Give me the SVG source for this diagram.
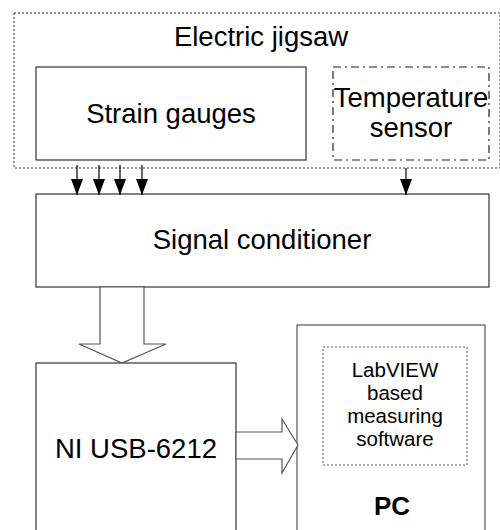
<svg xmlns="http://www.w3.org/2000/svg" width="500" height="530" viewBox="0 0 500 530">
<style>
text{font-family:"Liberation Sans",Arial,sans-serif;fill:#000;text-anchor:middle}
.box{fill:#fff;stroke:#333;stroke-width:1.2}
.gbox{fill:#fff;stroke:#555;stroke-width:1.2}
.hollow{fill:#fff;stroke:#555;stroke-width:1.2}
.wire{stroke:#000;stroke-width:1.2;fill:none}
</style>
<defs>
<marker id="ah" markerWidth="16" markerHeight="12" refX="16" refY="6" orient="auto" markerUnits="userSpaceOnUse" viewBox="0 0 16 12">
<path d="M0,0 L16,6 L0,12 Z" fill="#000"/>
</marker>
</defs>
<rect width="500" height="530" fill="#fff"/>
<g id="jigsaw">
<rect x="14" y="13" width="486" height="155" fill="none" stroke="#333" stroke-width="1" stroke-dasharray="2,2"/>
<text x="261" y="46" font-size="27.5">Electric jigsaw</text>
</g>
<g id="strain">
<rect class="box" x="36" y="67" width="270" height="93"/>
<text x="171" y="123" font-size="27.5">Strain gauges</text>
</g>
<g id="temp">
<rect x="333" y="67" width="156" height="93" fill="#fff" stroke="#222" stroke-width="1.2" stroke-dasharray="8,4,2,4"/>
<text x="411" y="107" font-size="27.5">Temperature</text>
<text x="411" y="137" font-size="27.5">sensor</text>
</g>
<g id="conditioner">
<rect class="box" x="36" y="194" width="453" height="93"/>
<text x="262" y="249" font-size="27.5">Signal conditioner</text>
</g>
<g id="ni">
<rect class="box" x="36" y="363" width="200" height="200"/>
<text x="136" y="458" font-size="27.5">NI USB-6212</text>
</g>
<g id="pc">
<rect class="gbox" x="297" y="325" width="188" height="240"/>
<rect x="323" y="347" width="144" height="118" fill="none" stroke="#555" stroke-width="1" stroke-dasharray="2,2"/>
<text x="395" y="377" font-size="20.5">LabVIEW</text>
<text x="395" y="400" font-size="20.5">based</text>
<text x="395" y="423" font-size="20.5">measuring</text>
<text x="395" y="446" font-size="20.5">software</text>
<text x="392" y="515" font-size="26" font-weight="bold">PC</text>
</g>
<g id="connectors">
<line class="wire" x1="77" y1="165" x2="77" y2="195" marker-end="url(#ah)"/>
<line class="wire" x1="99" y1="165" x2="99" y2="195" marker-end="url(#ah)"/>
<line class="wire" x1="120" y1="165" x2="120" y2="195" marker-end="url(#ah)"/>
<line class="wire" x1="142" y1="165" x2="142" y2="195" marker-end="url(#ah)"/>
<line class="wire" x1="406" y1="168" x2="406" y2="195" marker-end="url(#ah)"/>
<polygon class="hollow" points="100,287 100,344 79,344 122,363 166,344 144,344 144,287"/>
<polygon class="hollow" points="236,432 282,432 282,419 298,445 282,473 282,459 236,459"/>
</g>
</svg>
